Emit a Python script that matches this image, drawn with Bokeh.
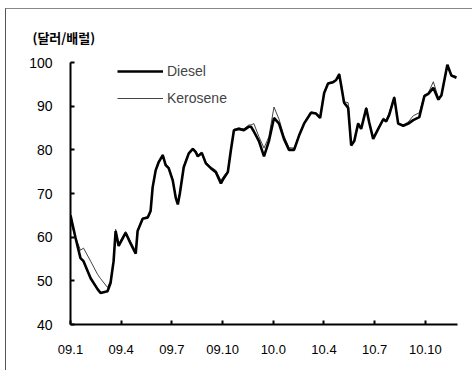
from bokeh.plotting import figure
from bokeh.models import FixedTicker, Legend, LegendItem, Range1d
from bokeh.embed import file_html
from bokeh.resources import INLINE

# months since Jan 2009
months = [0.00, 0.30, 0.59, 0.77, 1.19, 1.60, 1.78, 2.19, 2.37, 2.55, 2.67, 2.85,
          3.26, 3.56, 3.86, 3.97, 4.27, 4.57, 4.74, 4.86, 5.04, 5.22, 5.46, 5.63,
          5.81, 6.05, 6.23, 6.35, 6.47, 6.70, 7.00, 7.24, 7.41, 7.53, 7.77, 8.01,
          8.30, 8.60, 8.90, 9.07, 9.31, 9.49, 9.67, 9.96, 10.26, 10.56, 10.68, 10.85,
          11.15, 11.45, 11.74, 12.04, 12.34, 12.63, 12.93, 13.23, 13.52, 13.82, 14.23,
          14.53, 14.77, 15.01, 15.24, 15.54, 15.72, 15.90, 16.01, 16.19, 16.43, 16.61,
          16.79, 17.02, 17.20, 17.50, 17.68, 17.91, 18.21, 18.51, 18.68, 18.86, 19.16,
          19.39, 19.69, 19.99, 20.28, 20.64, 20.94, 21.17, 21.47, 21.77, 21.95, 22.30,
          22.54, 22.84]

diesel = [65.0, 59.8, 55.2, 54.5, 50.6, 48.1, 47.2, 47.6, 49.5, 54.5, 61.4, 58.0,
          61.0, 58.5, 56.2, 61.4, 64.2, 64.5, 66.0, 71.4, 75.3, 77.2, 78.8, 76.5,
          75.8, 73.0, 69.0, 67.5, 70.0, 76.0, 79.2, 80.2, 79.5, 78.5, 79.3, 76.9,
          75.8, 74.9, 72.3, 73.5, 74.9, 79.9, 84.5, 84.8, 84.5, 85.3, 85.3, 84.2,
          82.0, 78.5, 82.0, 87.3, 86.0, 82.5, 80.0, 80.0, 83.2, 86.0, 88.5,
          88.3, 87.3, 93.0, 95.2, 95.5, 96.0, 97.3, 94.9, 90.8, 89.6, 81.0,
          82.0, 86.0, 84.8, 89.5, 86.2, 82.5, 84.8, 87.0, 86.5, 88.0, 92.0,
          86.0, 85.5, 86.0, 86.8, 87.5, 92.3, 92.8, 94.2, 91.5, 92.5, 99.5,
          97.0, 96.5]

kerosene = [63.5, 60.0, 57.0, 57.5, 54.5, 51.5, 50.5, 48.5, 50.0, 54.5, 61.8, 58.5,
            61.3, 59.0, 56.8, 61.6, 64.4, 64.7, 66.2, 71.6, 75.5, 77.4, 78.9, 76.8,
            76.0, 73.3, 69.3, 68.0, 70.3, 76.3, 79.5, 80.4, 79.8, 78.8, 79.5, 77.2,
            76.1, 75.3, 73.0, 74.0, 75.2, 80.1, 84.7, 85.0, 84.8, 85.7, 85.7, 86.0,
            83.0, 80.4, 83.0, 89.8, 87.0, 83.2, 80.5, 80.4, 83.4, 86.2, 88.7,
            88.5, 87.5, 93.0, 95.4, 95.6, 96.0, 97.5, 95.0, 91.0, 90.8, 81.1,
            82.2, 86.2, 85.0, 89.8, 86.4, 82.7, 85.0, 87.3, 86.8, 88.5, 92.2,
            86.2, 85.7, 86.4, 87.8, 88.5, 92.6, 93.0, 95.6, 91.9, 92.6, 99.0,
            97.2, 96.8]

tick_pos = [0, 3, 6, 9, 12, 15, 18, 21]
tick_labels = ["09.1", "09.4", "09.7", "09.10", "10.0", "10.4", "10.7", "10.10"]
y_ticks = [40, 50, 60, 70, 80, 90, 100]

FONT = "Liberation Sans"

p = figure(width=466, height=361, output_backend="svg", toolbar_location=None,
           x_range=Range1d(0, 22.9), y_range=Range1d(40, 100),
           title="(달러/배럴)",
           min_border_left=64, min_border_top=53, min_border_right=16,
           min_border_bottom=47, background_fill_color="white",
           border_fill_color="white", outline_line_color=None)
p.styles = {"margin-left": "5px", "margin-top": "8px"}
p.stylesheets = [":host { border-left: 1px solid #555555 !important; "
                 "border-top: 1px solid #888888 !important; "
                 "box-sizing: content-box !important; }"]

p.title.text_font = "Noto Sans CJK KR"
p.title.text_font_size = "13px"
p.title.text_font_style = "bold"
p.title.align = "left"
p.title.offset = -38
p.title.standoff = 32
p.title.text_color = "black"

p.grid.visible = False

for ax in (p.xaxis[0], p.yaxis[0]):
    ax.axis_line_color = "black"
    ax.axis_line_width = 2
    ax.major_tick_in = 4
    ax.major_tick_out = 0
    ax.minor_tick_line_color = None
    ax.major_tick_line_color = "black"
    ax.major_tick_line_width = 2
    ax.major_label_text_font = FONT
    ax.major_label_text_font_size = "13px"
    ax.major_label_text_color = "black"

p.xaxis[0].ticker = FixedTicker(ticks=tick_pos)
p.xaxis[0].major_label_overrides = {t: l for t, l in zip(tick_pos, tick_labels)}
p.xaxis[0].major_label_standoff = 20
p.yaxis[0].ticker = FixedTicker(ticks=y_ticks)
p.yaxis[0].major_label_text_font_size = "14px"
p.yaxis[0].major_label_standoff = 18

r_k = p.line(months, kerosene, line_color="#444444", line_width=1)
r_d = p.line(months, diesel, line_color="black", line_width=2.6)

legend = Legend(items=[LegendItem(label="Diesel", renderers=[r_d]),
                       LegendItem(label="Kerosene", renderers=[r_k])],
                location=(47, 216), orientation="vertical",
                label_text_font=FONT, label_text_font_size="14px",
                glyph_width=46, glyph_height=20, label_height=20,
                label_standoff=4, spacing=7, padding=0,
                background_fill_alpha=0, border_line_color=None)
p.add_layout(legend, "center")

open("out.html", "w").write(file_html(p, INLINE))
